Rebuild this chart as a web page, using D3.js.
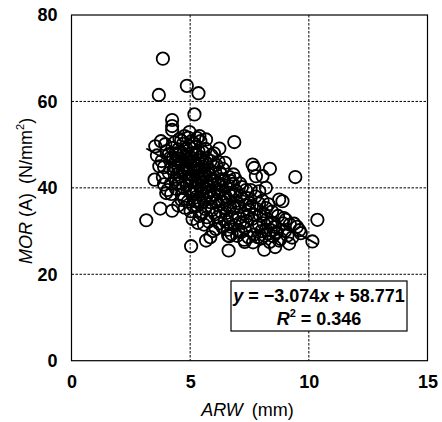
<!DOCTYPE html>
<html><head><meta charset="utf-8">
<script src="https://cdn.jsdelivr.net/npm/d3@7"></script>
<style>body{margin:0;background:#fff}svg{display:block}</style>
</head><body>
<script>
const xTicks = [0, 5, 10, 15];
const yTicks = [0, 20, 40, 60, 80];
const slope = -3.074, intercept = 58.771, r2 = 0.346;
const arw = [
3.85,3.68,4.86,5.35,5.18,4.24,4.24,4.24,4.97,4.76,6.86,6.23,3.77,3.53,5.39,5.67,3.50,3.15,3.74,4.24,3.99,5.04,5.67,5.85,6.62,6.65,8.12,8.58,9.17,10.15,10.36,9.43,8.36,7.63,7.70,7.77,8.05,8.19,7.91,8.75,8.89,9.03,9.38,9.66,8.47,8.61,6.47,
3.6,3.8,3.9,4.0,4.1,3.95,4.15,4.2,4.05,3.85,4.25,4.3,4.1,3.7,4.2,4.28,3.9,
4.35,4.4,4.45,4.5,4.55,4.6,4.65,4.7,4.75,4.8,4.85,4.9,4.95,4.4,4.5,4.6,4.7,4.8,4.9,4.35,4.45,4.55,4.65,4.75,4.85,4.95,4.42,4.58,4.72,4.88,4.98,4.5,4.62,4.78,4.92,4.38,4.68,4.82,4.97,4.48,4.64,4.86,4.52,
5.0,5.05,5.1,5.15,5.2,5.25,5.3,5.35,5.4,5.45,5.5,5.55,5.6,5.65,5.7,5.02,5.08,5.12,5.18,5.22,5.28,5.32,5.38,5.42,5.48,5.52,5.58,5.62,5.68,5.05,5.15,5.25,5.35,5.45,5.55,5.65,5.1,5.2,5.3,5.4,5.5,5.6,5.7,5.03,5.13,5.23,5.33,5.43,5.53,5.63,5.08,5.28,5.48,5.68,5.18,5.38,5.58,5.3,5.12,5.42,
5.75,5.8,5.85,5.9,5.95,6.0,6.05,6.1,6.15,6.2,6.25,6.3,6.35,6.4,6.45,5.78,5.88,5.98,6.08,6.18,6.28,6.38,6.48,5.82,5.92,6.02,6.12,6.22,6.32,6.42,5.76,5.86,5.96,6.06,6.16,6.26,6.36,6.46,6.0,6.2,5.9,6.1,
6.5,6.55,6.6,6.65,6.7,6.75,6.8,6.85,6.9,6.95,7.0,7.05,7.1,7.15,7.2,7.25,7.3,7.35,7.4,7.45,6.52,6.62,6.72,6.82,6.92,7.02,7.12,7.22,7.32,7.42,6.58,6.68,6.78,6.88,6.98,7.08,7.18,7.28,7.38,7.48,6.7,6.9,7.1,6.6,7.3,
7.5,7.6,7.7,7.8,7.9,8.0,8.1,8.2,8.3,8.4,8.5,7.55,7.65,7.75,7.85,7.95,8.05,8.15,8.25,8.35,8.45,7.6,7.8,8.0,8.2,8.4,7.7,7.9,8.1,8.3,
8.55,8.65,8.7,8.8,8.9,9.0,9.1,9.2,9.3,9.5,9.6,8.75,8.95
];
const mor = [
69.9,61.5,63.6,61.9,57.0,55.7,54.3,53.4,52.9,52.0,50.6,49.1,50.8,49.6,52.0,51.2,41.9,32.5,35.2,34.7,38.8,26.5,27.8,28.6,25.5,28.8,25.7,26.3,27.1,27.6,32.6,42.5,44.4,45.4,44.6,42.7,42.7,40.0,39.2,37.3,36.9,32.6,31.7,29.5,31.9,29.5,45.8,
47.5,46.2,44.8,48.5,43.5,50.1,46.9,41.0,39.5,42.5,49.2,44.2,47.8,45.0,38.6,47.0,40.8,
50.5,46.3,43.1,48.9,41.2,45.7,38.4,50.2,44.0,47.3,40.5,36.8,49.6,39.8,35.9,42.6,47.9,43.4,45.1,44.8,47.6,51.3,46.1,37.5,49.0,42.2,42.0,48.2,40.1,46.6,39.3,44.6,50.9,35.4,51.6,48.0,43.8,41.7,45.9,40.9,37.2,44.3,46.8,
47.2,43.0,38.6,50.3,45.4,41.3,35.8,48.4,44.1,39.7,46.5,42.2,37.3,49.0,33.2,34.6,41.8,46.0,36.9,49.5,43.7,31.9,40.6,47.1,34.0,44.9,40.2,45.9,38.1,50.8,44.5,47.9,42.5,36.5,48.2,42.7,32.8,40.0,45.0,33.5,41.1,43.4,46.8,39.0,42.9,37.8,46.3,50.8,38.8,35.1,48.0,39.2,43.2,41.5,43.9,37.0,31.5,51.5,36.0,41.9,
44.2,40.4,36.7,47.5,42.0,38.5,33.9,45.3,41.1,36.0,43.6,39.4,31.0,41.7,35.2,32.2,38.3,45.0,30.5,38.9,34.6,44.4,38.0,43.0,34.9,41.5,36.8,31.8,42.0,37.6,39.0,46.2,30.0,43.5,33.2,40.6,36.9,32.7,48.0,46.0,37.8,39.9,
40.5,36.0,32.1,42.5,38.2,29.3,40.9,35.3,31.3,39.2,36.5,33.0,41.0,29.8,37.4,34.0,30.7,39.5,33.5,28.6,34.2,38.9,31.0,43.1,37.0,30.2,38.0,31.9,36.0,37.6,30.3,35.5,33.2,38.5,28.9,35.6,40.2,28.0,32.3,35.0,41.6,42.1,32.0,29.0,27.5,
36.5,32.8,29.2,35.1,31.4,28.3,34.0,30.3,36.2,32.0,28.8,39.5,27.4,38.0,28.6,33.6,37.0,29.0,32.8,27.5,34.5,35.8,31.0,30.0,35.3,30.2,33.8,36.4,31.8,29.4,
31.0,29.8,33.5,28.2,31.8,30.0,29.0,31.5,28.5,31.0,30.2,27.8,33.0
];

const W = 442, H = 422;
const L = 71.5, R = 427.5, T = 15, B = 360.7;
const svg = d3.select("body").append("svg").attr("width", W).attr("height", H);
const x = d3.scaleLinear().domain([0, 15]).range([L, R]);
const y = d3.scaleLinear().domain([0, 80]).range([B, T]);
const font = "'Liberation Sans', Arial, sans-serif";

// gridlines
svg.append("g").selectAll("line").data(xTicks.filter(d => d > 0 && d < 15)).join("line")
  .attr("x1", d => x(d)).attr("x2", d => x(d)).attr("y1", T).attr("y2", B)
  .attr("stroke", "#000").attr("stroke-width", 1).attr("stroke-dasharray", "2.5,1.5");
svg.append("g").selectAll("line").data(yTicks.filter(d => d > 0 && d < 80)).join("line")
  .attr("y1", d => y(d)).attr("y2", d => y(d)).attr("x1", L).attr("x2", R)
  .attr("stroke", "#000").attr("stroke-width", 1).attr("stroke-dasharray", "2.5,1.5");

// frame
svg.append("rect").attr("x", L).attr("y", T).attr("width", R - L).attr("height", B - T)
  .attr("fill", "none").attr("stroke", "#000").attr("stroke-width", 1.2);

// axes (labels only)
const xa = d3.axisBottom(x).tickValues(xTicks).tickSize(0).tickPadding(15).tickFormat(d3.format("d"));
const gx = svg.append("g").attr("transform", `translate(0,${B})`).call(xa);
gx.select(".domain").remove();
gx.selectAll("text").attr("font-family", font).attr("font-weight", "bold").attr("font-size", 18).attr("fill", "#000");
const ya = d3.axisLeft(y).tickValues(yTicks).tickSize(0).tickPadding(14).tickFormat(d3.format("d"));
const gy = svg.append("g").attr("transform", `translate(${L},0)`).call(ya);
gy.select(".domain").remove();
gy.selectAll("text").attr("font-family", font).attr("font-weight", "bold").attr("font-size", 18).attr("fill", "#000");

// points
const pts = arw.map((v, i) => [v, mor[i]]);
svg.append("g").selectAll("circle").data(pts).join("circle")
  .attr("cx", d => x(d[0])).attr("cy", d => y(d[1])).attr("r", 6.2)
  .attr("fill", "none").attr("stroke", "#000").attr("stroke-width", 1.8);

// regression line
const xmin = d3.min(arw), xmax = d3.max(arw);
svg.append("line")
  .attr("x1", x(xmin)).attr("y1", y(slope * xmin + intercept))
  .attr("x2", x(xmax)).attr("y2", y(slope * xmax + intercept))
  .attr("stroke", "#000").attr("stroke-width", 1.8);

// stats box
const bx = 231, by = 281, bw = 176, bh = 50;
svg.append("rect").attr("x", bx).attr("y", by).attr("width", bw).attr("height", bh)
  .attr("fill", "#fff").attr("stroke", "#000").attr("stroke-width", 1.2);
const t1 = svg.append("text").attr("x", bx + bw / 2).attr("y", by + 21).attr("text-anchor", "middle")
  .attr("font-family", font).attr("font-weight", "bold").attr("font-size", 18);
t1.append("tspan").attr("font-style", "italic").text("y");
t1.append("tspan").text(` = \u2212${Math.abs(slope).toFixed(3)}`);
t1.append("tspan").attr("font-style", "italic").text("x");
t1.append("tspan").text(` + ${intercept.toFixed(3)}`);
const t2 = svg.append("text").attr("x", bx + bw / 2).attr("y", by + 44).attr("text-anchor", "middle")
  .attr("font-family", font).attr("font-weight", "bold").attr("font-size", 18);
t2.append("tspan").attr("font-style", "italic").text("R");
t2.append("tspan").attr("font-size", 11).attr("dy", -8).text("2");
t2.append("tspan").attr("dy", 8).text(` = ${r2.toFixed(3)}`);

// axis titles
const xt = svg.append("text").attr("x", (L + R) / 2 - 2).attr("y", 416).attr("text-anchor", "middle")
  .attr("font-family", font).attr("font-size", 18);
xt.append("tspan").attr("font-style", "italic").text("ARW");
xt.append("tspan").text("\u2002(mm)");
const yt = svg.append("text").attr("transform", `translate(32,${(T + B) / 2 + 3}) rotate(-90)`)
  .attr("text-anchor", "middle").attr("font-family", font).attr("font-size", 18);
yt.append("tspan").attr("font-style", "italic").text("MOR");
yt.append("tspan").text(" (A)\u2002(N/mm");
yt.append("tspan").attr("font-size", 11).attr("dy", -8).text("2");
yt.append("tspan").attr("dy", 8).text(")");
</script>
</body></html>
